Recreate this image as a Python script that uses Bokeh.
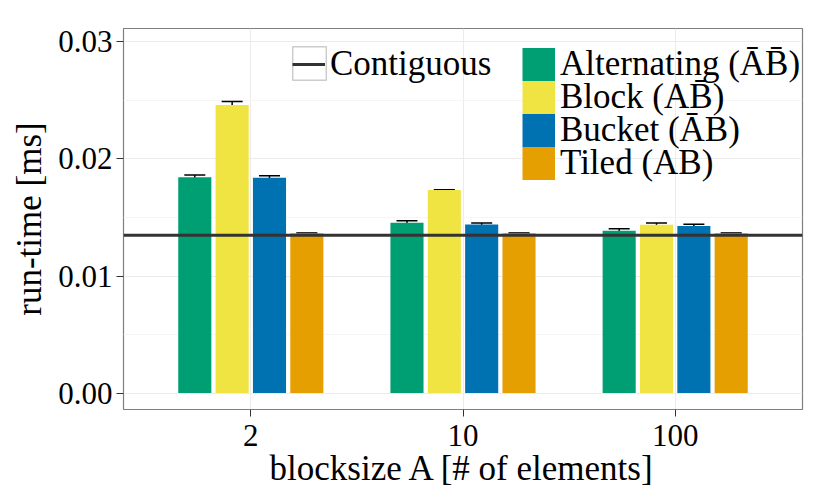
from bokeh.plotting import figure
from bokeh.models import (ColumnDataSource, Whisker, TeeHead, FixedTicker, Legend, LegendItem,
                          PrintfTickFormatter)
from bokeh.embed import file_html
from bokeh.resources import INLINE

# ---- data ----
blocksizes = ["2", "10", "100"]
series = ["Alternating (ĀB̄)", "Block (AB̄)", "Bucket (ĀB)", "Tiled (AB)"]
colors = ["#009E73", "#F0E442", "#0072B2", "#E69F00"]
alternating = [0.01843, 0.01455, 0.01386]
block = [0.02460, 0.01734, 0.01438]
bucket = [0.01840, 0.01440, 0.01427]
tiled = [0.01365, 0.01366, 0.01366]
alternating_err = [0.00020, 0.00017, 0.00017]
block_err = [0.00030, 0.00003, 0.00014]
bucket_err = [0.00017, 0.00013, 0.00016]
tiled_err = [0.00002, 0.00002, 0.00002]
contiguous = 0.01349
y_ticks = [0.0, 0.01, 0.02, 0.03]
y_minor = [0.005, 0.015, 0.025]

FONT = "Liberation Serif"
NAN = float("nan")
values = [alternating, block, bucket, tiled]
errors = [alternating_err, block_err, bucket_err, tiled_err]

x_start, x_end = 0.4, 3.6
p = figure(width=822, height=490, output_backend="svg", toolbar_location=None,
           x_range=(x_start, x_end), y_range=(-0.0014, 0.03114),
           min_border_left=123, min_border_right=20, min_border_top=28, min_border_bottom=81)

slot = 0.176
bar_w = 0.156
key_renderers = []
for i, (name, col, vals, errs) in enumerate(zip(series, colors, values, errors)):
    xs = [g + 1 + (i - 1.5) * slot for g in range(len(blocksizes))]
    src = ColumnDataSource(dict(x=xs, top=vals,
                                upper=[v + e for v, e in zip(vals, errs)],
                                lower=[v - e for v, e in zip(vals, errs)]))
    p.vbar(x="x", top="top", bottom=0, width=bar_w, source=src,
           fill_color=col, line_color=None)
    # legend key: a thick butt-capped line (no visible data) renders as a square swatch
    key_renderers.append(p.line(x=[x_start, x_end], y=[NAN, NAN],
                                line_color=col, line_width=33, line_cap="butt"))
    w = Whisker(source=src, base="x", upper="upper", lower="lower", dimension="height",
                line_color="black", line_width=1.5,
                upper_head=TeeHead(size=21, line_color="black", line_width=1.5),
                lower_head=TeeHead(size=21, line_color="black", line_width=1.5))
    p.add_layout(w)

cl = p.line(x=[x_start, x_end], y=[contiguous, contiguous], line_color="#333333", line_width=3)
# invisible box used only as the bordered key background of the "Contiguous" entry
key_box = p.vbar(x=[NAN], top=[NAN], width=0.1, fill_color="white",
                 line_color="#cccccc", line_width=1.5)

# axes
p.yaxis.ticker = FixedTicker(ticks=y_ticks, minor_ticks=y_minor)
p.yaxis.formatter = PrintfTickFormatter(format="%.2f")
p.xaxis.ticker = FixedTicker(ticks=[1, 2, 3])
p.xaxis.major_label_overrides = {i + 1: b for i, b in enumerate(blocksizes)}
p.xaxis.axis_label = "blocksize A [# of elements]"
p.yaxis.axis_label = "run-time [ms]"
for ax in (p.xaxis, p.yaxis):
    ax.axis_line_color = None
    ax.major_tick_line_color = "#333333"
    ax.major_tick_line_width = 1
    ax.major_tick_out = 7
    ax.major_tick_in = 0
    ax.minor_tick_line_color = None
    ax.major_label_text_font = FONT
    ax.major_label_text_font_size = "31px"
    ax.major_label_text_color = "black"
    ax.axis_label_text_font = FONT
    ax.axis_label_text_font_size = "35px"
    ax.axis_label_text_font_style = "normal"
    ax.axis_label_text_color = "black"
p.xaxis.major_label_standoff = 8
p.xaxis.axis_label_standoff = 0
p.yaxis.major_label_standoff = 4
p.yaxis.axis_label_standoff = 6

p.xgrid.grid_line_color = "#ebebeb"
p.ygrid.grid_line_color = "#ebebeb"
p.ygrid.minor_grid_line_color = "#f5f5f5"
p.outline_line_color = "#7f7f7f"
p.outline_line_width = 1.2
p.background_fill_color = "white"


def row_legend(label, renderer, loc, gw=33, gh=44):
    return Legend(items=[LegendItem(label=label, renderers=[renderer])], location=loc,
                  padding=0, margin=0, spacing=0, border_line_color=None,
                  background_fill_alpha=0, glyph_width=gw, glyph_height=gh, label_height=gh,
                  label_standoff=5, label_text_font=FONT, label_text_font_size="35px",
                  label_text_color="black", label_text_baseline="middle")


# bordered key box (area legend glyphs are inset by 10%: 42px box -> ~34px drawn)
p.add_layout(row_legend(" ", key_box, (165, 325), gw=42, gh=42), "center")
p.add_layout(row_legend("Contiguous", cl, (169, 323)), "center")
for i, (s, r) in enumerate(zip(series, key_renderers)):
    p.add_layout(row_legend(s, r, (399, 323 - 33 * i)), "center")

open("out.html", "w").write(file_html(p, INLINE))
